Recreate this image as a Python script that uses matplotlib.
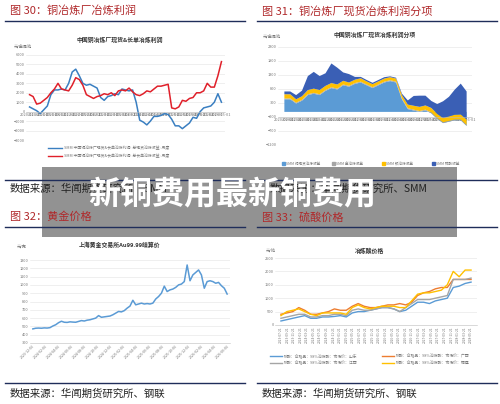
import numpy as np
import matplotlib
matplotlib.use("Agg")
import matplotlib.pyplot as plt
from matplotlib.patches import Rectangle

plt.rcParams['font.family'] = ['Noto Sans CJK SC', 'DejaVu Sans']

W, H = 500, 404

# ---- chart 1: smelter profit (yuan/t metal), monthly
c1_labels = ["2020-11-01", "2021-02-01", "2021-05-01", "2021-08-01", "2021-11-01", "2022-02-01",
             "2022-05-01", "2022-08-01", "2022-11-01", "2023-02-01", "2023-05-01", "2023-08-01",
             "2023-11-01", "2024-02-01", "2024-05-01", "2024-08-01", "2024-11-01", "2025-02-01",
             "2025-05-01", "2025-08-01", "2025-11-01", "2026-02-01", "2026-05-01"]
c1_spot = [500, 300, 100, -200, 200, 600, 1800, 2300, 2300, 2400, 2300, 3000, 4200, 4500, 3800,
           3000, 2800, 2900, 2700, 2500, 1500, 1200, 1600, 1700, 1900, 1800, 2400, 2300, 2200,
           2300, 1000, -900, -1100, -1400, -1000, -500, -500, -400, -200, -300, -800, -1500,
           -1500, -1800, -1500, -1200, -600, -700, 0, 400, 500, 600, 1000, 1900, 1000]
c1_long = [1800, 1600, 800, 900, 1200, 1500, 2000, 2400, 3000, 2400, 2300, 2200, 2800, 3600,
           3400, 2800, 1800, 1600, 1400, 1600, 1700, 1900, 1800, 2000, 1700, 2200, 2300, 2200,
           2500, 2100, 1800, 1700, 1900, 2200, 2100, 2400, 2700, 2700, 2800, 2900, 400, 300,
           500, 1200, 1100, 1400, 1500, 2000, 2000, 2200, 3000, 2600, 2600, 3800, 5300]

# ---- chart 2: spot profit split (yuan/t)
c2_labels = ["2020-09-01", "2020-12-01", "2021-03-01", "2021-06-01", "2021-09-01", "2021-12-01",
             "2022-03-01", "2022-06-01", "2022-09-01", "2022-12-01", "2023-03-01", "2023-06-01",
             "2023-09-01", "2023-12-01", "2024-03-01", "2024-06-01", "2024-09-01", "2024-12-01",
             "2025-03-01", "2025-06-01", "2025-09-01", "2025-12-01", "2026-03-01", "2026-06-01"]
c2_copper = [450, 450, 300, 400, 600, 650, 600, 750, 850, 800, 950, 900, 1000, 1050, 950, 850,
             950, 1050, 1100, 1050, 450, 100, 50, 0, 50, -50, -250, -400, -350, -300, -300, -500]
c2_gold = [30, 30, 30, 30, 30, 30, 30, 30, 30, 30, 30, 30, 30, 30, 30, 30, 30, 30, 30, 30,
           30, 30, 30, 30, 30, 30, 30, 30, 30, 30, 30, 30]
c2_silver = [150, 150, 120, 130, 150, 150, 150, 150, 150, 150, 130, 120, 120, 120, 110, 110,
             110, 110, 110, 110, 120, 130, 140, 150, 150, 160, 150, 150, 160, 170, 180, 200]
c2_acid = [100, 100, 150, 200, 500, 600, 500, 450, 700, 600, 300, 300, 100, 50, 50, 50, 50,
           50, 30, 30, 50, 150, 350, 400, 350, 250, 350, 600, 700, 900, 1100, 1000]

# ---- chart 3: SGE Au99.99 (yuan/g)
c3_labels = ["2023-12-06", "2024-02-06", "2024-04-06", "2024-06-06", "2024-08-06", "2024-10-06",
             "2024-12-06", "2025-02-06", "2025-04-06", "2025-06-06", "2025-08-06", "2025-10-06",
             "2025-12-06", "2026-02-06", "2026-04-06", "2026-06-06"]
c3_gold = [470, 478, 480, 478, 482, 480, 485, 505, 520, 545, 562, 550, 548, 555, 552, 550,
           560, 570, 565, 575, 580, 590, 600, 630, 610, 615, 620, 625, 640, 660, 680, 675,
           690, 720, 745, 815, 760, 770, 780, 770, 775, 770, 780, 830, 860, 900, 985, 920,
           940, 950, 970, 1000, 1010, 1040, 1240, 1050, 1120, 1150, 1180, 1120, 960, 1040,
           1050, 1040, 1020, 1030, 990, 960, 890]

# ---- chart 4: sulfuric acid (yuan/t)
c4_labels = ["2023-07-21", "2023-09-21", "2023-11-21", "2024-01-21", "2024-03-21", "2024-05-21",
             "2024-07-21", "2024-09-21", "2024-11-21", "2025-01-21", "2025-03-21", "2025-05-21",
             "2025-07-21", "2025-09-21", "2025-11-21", "2026-01-21", "2026-03-21", "2026-05-21",
             "2026-07-21", "2026-09-21", "2026-11-21", "2027-01-21", "2027-03-21", "2027-05-21",
             "2027-07-21", "2027-09-21", "2027-11-21", "2028-01-21", "2028-03-21", "2028-05-21"]
c4_shandong = [150, 200, 250, 300, 350, 250, 250, 300, 300, 320, 350, 300, 450, 500, 500, 550,
               600, 650, 650, 600, 500, 550, 700, 850, 850, 800, 900, 950, 1000, 1400, 1450,
               1550, 1600]
c4_guangxi = [400, 450, 500, 650, 550, 400, 400, 450, 500, 600, 550, 550, 700, 800, 700, 650,
              650, 700, 750, 750, 800, 750, 850, 1100, 1200, 1250, 1350, 1400, 1400, 1700,
              1700, 1700, 1700]
c4_jiangxi = [250, 300, 350, 400, 400, 300, 300, 350, 350, 400, 400, 350, 550, 600, 550, 550,
              600, 650, 650, 600, 500, 650, 800, 950, 950, 950, 1000, 1050, 1100, 1700, 1700,
              1700, 1750]
c4_fujian = [350, 500, 550, 600, 500, 400, 350, 450, 450, 450, 450, 400, 650, 750, 650, 600,
             650, 700, 700, 700, 650, 650, 900, 1150, 1200, 1200, 1250, 1300, 1500, 2000, 1800,
             2050, 2050]

RED = '#b0282a'
NAVY = '#1f2d5a'
GRID = '#e4e4e4'

fig = plt.figure(figsize=(W / 100, H / 100), dpi=100)


def px_axes(x0, y0, x1, y1):
    return fig.add_axes([x0 / W, 1 - y1 / H, (x1 - x0) / W, (y1 - y0) / H])


def style(ax):
    for s in ['top', 'right', 'left']:
        ax.spines[s].set_visible(False)
    ax.spines['bottom'].set_color('#bbbbbb')
    ax.spines['bottom'].set_linewidth(0.4)
    ax.tick_params(axis='both', length=0, labelsize=2.8, colors='#777777', pad=1)
    ax.grid(axis='y', color=GRID, lw=0.4)
    ax.set_axisbelow(True)


def ftext(x, y, s, **kw):
    fig.text(x / W, 1 - y / H, s, **kw)


def header(x0, x1, y, s):
    ftext(x0 + 5, y, s, color=RED, fontsize=8, va='center')
    fig.add_artist(plt.Line2D([x0 / W, x1 / W], [1 - (y + 10) / H] * 2, color=NAVY, lw=1))


# headers
header(5, 245, 11, "图 30：铜冶炼厂冶炼利润")
header(257, 497, 11, "图 31：铜冶炼厂现货冶炼利润分项")
header(5, 245, 217, "图 32：黄金价格")
header(257, 497, 217, "图 33：硫酸价格")

# footers
fig.add_artist(plt.Line2D([5 / W, 245 / W], [1 - 180 / H] * 2, color=NAVY, lw=1))
fig.add_artist(plt.Line2D([257 / W, 497 / W], [1 - 180 / H] * 2, color=NAVY, lw=1))
ftext(10, 189, "数据来源：华闻期货研究所、SMM", fontsize=7.5, va='center', color='#222222')
ftext(270, 189, "数据来源：华闻期货研究所、SMM", fontsize=7.5, va='center', color='#222222')
fig.add_artist(plt.Line2D([5 / W, 245 / W], [1 - 383 / H] * 2, color=NAVY, lw=1))
fig.add_artist(plt.Line2D([257 / W, 497 / W], [1 - 383 / H] * 2, color=NAVY, lw=1))
ftext(10, 394, "数据来源：华闻期货研究所、钢联", fontsize=7.5, va='center', color='#222222')
ftext(262, 394, "数据来源：华闻期货研究所、钢联", fontsize=7.5, va='center', color='#222222')

# ---- chart 1
ax1 = px_axes(26, 55, 225, 140)
style(ax1)
ax1.plot(np.arange(len(c1_spot)), c1_spot, color='#3a7fc1', lw=1.1)
ax1.plot(np.arange(len(c1_long)), c1_long, color='#e0202a', lw=1.1)
ax1.set_ylim(-3000, 6000)
ax1.set_yticks(range(-3000, 6001, 1000))
ax1.set_xlim(-1, 55)
ax1.set_xticks(np.linspace(0, 54, len(c1_labels)))
ax1.set_xticklabels(c1_labels, rotation=90, fontsize=2.3)
ax1.spines['bottom'].set_position(('data', 0))
ftext(120, 42, "中国铜冶炼厂现货&长单冶炼利润", fontsize=4.2, ha='center', weight='bold', color='#333333')
ftext(14, 48, "元/金属吨", fontsize=3, color='#777777')
fig.add_artist(plt.Line2D([48 / W, 62 / W], [1 - 148 / H] * 2, color='#3a7fc1', lw=1))
ftext(64, 148, "SMM 中国铜冶炼厂现货&长单冶炼利润: 总现货冶炼收益: 月度", fontsize=2.8, va='center', color='#777777')
fig.add_artist(plt.Line2D([48 / W, 62 / W], [1 - 156 / H] * 2, color='#e0202a', lw=1))
ftext(64, 156, "SMM 中国铜冶炼厂现货&长单冶炼利润: 总长单冶炼收益: 月度", fontsize=2.8, va='center', color='#777777')

# ---- chart 2
ax2 = px_axes(278, 47, 472, 145)
style(ax2)
x2 = np.arange(len(c2_copper))
lv1 = np.array(c2_copper, float)
lv2 = lv1 + np.array(c2_gold)
lv3 = lv2 + np.array(c2_silver)
lv4 = lv3 + np.array(c2_acid)
ax2.fill_between(x2, 0, lv1, color='#5b9bd5', lw=0)
ax2.fill_between(x2, lv1, lv2, color='#a5a5a5', lw=0)
ax2.fill_between(x2, lv2, lv3, color='#ffc000', lw=0)
ax2.fill_between(x2, lv3, lv4, color='#3a5fb5', lw=0)
ax2.set_ylim(-1200, 2300)
ax2.set_yticks(range(-1200, 2301, 500))
ax2.set_xlim(-1, len(x2))
ax2.set_xticks(np.linspace(0, len(x2) - 1, len(c2_labels)))
ax2.set_xticklabels(c2_labels, rotation=90, fontsize=2.3)
ax2.spines['bottom'].set_position(('data', -200))
ftext(375, 37, "中国铜冶炼厂现货冶炼利润分项", fontsize=4.2, ha='center', weight='bold', color='#333333')
ftext(263, 38, "元/金属吨", fontsize=3, color='#777777')
for i, (lab, col) in enumerate([("SMM 铜现货冶炼收益", '#5b9bd5'), ("SMM 金冶炼收益", '#a5a5a5'),
                                ("SMM 银冶炼收益", '#ffc000'), ("SMM 硫酸收益", '#3a5fb5')]):
    xx = 282 + i * 50
    fig.add_artist(Rectangle((xx / W, 1 - 165 / H), 2.5 / W, 2.5 / H, color=col))
    ftext(xx + 4, 164, lab, fontsize=2.6, va='center', color='#777777')

# ---- chart 3
ax3 = px_axes(30, 260, 230, 343)
style(ax3)
ax3.plot(np.arange(len(c3_gold)), c3_gold, color='#5b9bd5', lw=1.1)
ax3.set_ylim(300, 1300)
ax3.set_yticks(range(300, 1301, 100))
ax3.set_xlim(-1, len(c3_gold))
ax3.set_xticks(np.linspace(0, len(c3_gold) - 1, len(c3_labels)))
ax3.set_xticklabels(c3_labels, rotation=45, ha='right', rotation_mode='anchor', fontsize=2.6)
ftext(120, 247, "上海黄金交易所Au99.99结算价", fontsize=4.2, ha='center', weight='bold', color='#333333')
ftext(17, 248, "元/克", fontsize=3, color='#777777')

# ---- chart 4
ax4 = px_axes(275, 258, 477, 325)
style(ax4)
for vals, col in [(c4_shandong, '#5b9bd5'), (c4_guangxi, '#ed7d31'),
                  (c4_jiangxi, '#a5a5a5'), (c4_fujian, '#ffc000')]:
    ax4.plot(np.arange(len(vals)), vals, color=col, lw=1)
ax4.set_ylim(0, 2500)
ax4.set_yticks(range(0, 2501, 500))
ax4.set_xlim(-1, len(c4_fujian))
ax4.set_xticks(np.linspace(0, len(c4_fujian) - 1, len(c4_labels)))
ax4.set_xticklabels(c4_labels, rotation=90, fontsize=2.3)
ftext(370, 253, "冶炼酸价格", fontsize=4.2, ha='center', weight='bold', color='#333333')
ftext(266, 251, "元/吨", fontsize=3, color='#777777')
leg4 = [("硫酸：合格品：98%冶炼酸：市场价：山东", '#5b9bd5', 270, 356),
        ("硫酸：合格品：98%冶炼酸：市场价：广西", '#ed7d31', 382, 356),
        ("硫酸：合格品：98%冶炼酸：市场价：江西", '#a5a5a5', 270, 363),
        ("硫酸：合格品：98%冶炼酸：市场价：福建", '#ffc000', 382, 363)]
for lab, col, xx, yy in leg4:
    fig.add_artist(plt.Line2D([xx / W, (xx + 12) / W], [1 - yy / H] * 2, color=col, lw=1))
    ftext(xx + 14, yy, lab, fontsize=2.8, va='center', color='#777777')

# ---- banner overlay
fig.add_artist(Rectangle((42 / W, 1 - 237 / H), 415 / W, 70 / H, color='#777777', alpha=0.8, lw=0))
ftext(232, 194, "新铜费用最新铜费用", fontsize=23, ha='center', va='center', color='white', weight='bold')

fig.savefig("out.png", dpi=100)
